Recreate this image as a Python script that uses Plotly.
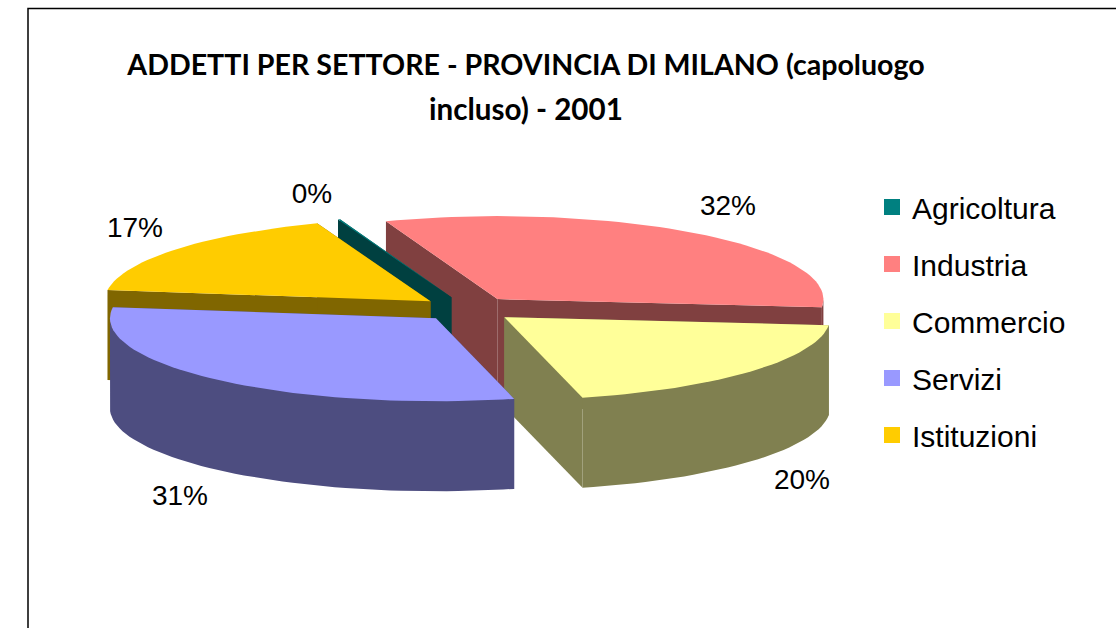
import math
import plotly.graph_objects as go

# ---- data ----
categories = ["Agricoltura", "Industria", "Commercio", "Servizi", "Istituzioni"]
shares = [0.1, 32.1, 19.6, 31.0, 17.2]
title_line_1 = "ADDETTI PER SETTORE - PROVINCIA DI MILANO (capoluogo"
title_line_2 = "incluso) - 2001"

# ---- style ----
top_colors = ["#008080", "#FF8080", "#FFFF99", "#9999FF", "#FFCC00"]
side_colors = ["#004040", "#804040", "#808050", "#4D4D80", "#806600"]
draw_order = [1, 0, 2, 4, 3]
label_anchor = [(312, 196), (728, 208), (802, 482), (180, 498), (135, 230)]
START = -20.36
CX, CY = 468, 309
EXPLODE_X, EXPLODE_Y = 48, 12.5
RX, RY, DEPTH = 326, 83, 90

total = sum(shares)
spans = []
a = START
for s in shares:
    b = a + s / total * 360
    spans.append((a, b))
    a = b


def pt(ax, ay, deg, dy=0):
    r = math.radians(deg)
    return ax + RX * math.sin(r), ay - RY * math.cos(r) + dy


def arc(ax, ay, a0, a1, dy=0):
    n = max(2, int(abs(a1 - a0) / 2) + 2)
    return [pt(ax, ay, a0 + (a1 - a0) * i / (n - 1), dy) for i in range(n)]


fig = go.Figure()


def poly(points, color):
    xs = [p[0] for p in points] + [points[0][0]]
    ys = [p[1] for p in points] + [points[0][1]]
    fig.add_trace(go.Scatter(x=xs, y=ys, mode="lines", fill="toself", fillcolor=color,
                             line=dict(width=0, color=color), hoverinfo="skip", showlegend=False))


for i in draw_order:
    a0, a1 = spans[i]
    m = math.radians((a0 + a1) / 2)
    ax = CX + EXPLODE_X * math.sin(m)
    ay = CY - EXPLODE_Y * math.cos(m)
    side = side_colors[i]
    # cut faces
    for edge in (a0, a1):
        e = pt(ax, ay, edge)
        poly([(ax, ay), e, (e[0], e[1] + DEPTH), (ax, ay + DEPTH)], side)
    # outer rim, only the part facing the viewer
    lo, hi = max(a0, 90), min(a1, 270)
    if lo < hi:
        poly(arc(ax, ay, lo, hi) + arc(ax, ay, hi, lo, DEPTH), side)
    # top face
    poly([(ax, ay)] + arc(ax, ay, a0, a1), top_colors[i])

# percentage labels
fig.add_trace(go.Scatter(
    x=[p[0] for p in label_anchor], y=[p[1] for p in label_anchor],
    text=[f"{round(s)}%" for s in shares], mode="text",
    textposition="middle center",
    textfont=dict(family="Liberation Sans", size=28, color="#000000"),
    hoverinfo="skip", showlegend=False))

# legend entries
for name, color in zip(categories, top_colors):
    fig.add_trace(go.Scatter(x=[None], y=[None], mode="markers", name=name, legendgroup=name,
                             marker=dict(symbol="square", size=19, color=color)))

fig.update_layout(
    width=1116, height=628, autosize=False,
    margin=dict(l=0, r=0, t=0, b=0),
    paper_bgcolor="#FFFFFF", plot_bgcolor="#FFFFFF",
    xaxis=dict(range=[0, 1116], visible=False, fixedrange=True),
    yaxis=dict(range=[628, 0], visible=False, fixedrange=True),
    title=dict(text=title_line_1, x=526 / 1116, xanchor="center",
               y=1 - 65 / 628, yanchor="middle",
               font=dict(family="Lato", size=28.6, color="#000000", weight="bold")),
    legend=dict(x=872 / 1116, xanchor="left", y=1 - 181 / 628, yanchor="top",
                tracegroupgap=15, itemsizing="trace", bgcolor="rgba(0,0,0,0)",
                font=dict(family="Liberation Sans", size=30, color="#000000")),
    annotations=[dict(text=title_line_2, x=526, y=108, xref="x", yref="y",
                      showarrow=False, xanchor="center", yanchor="middle",
                      font=dict(family="Lato", size=29.6, color="#000000", weight="bold"))],
    shapes=[dict(type="rect", xref="x", yref="y", x0=28, x1=1130, y0=8.5, y1=640,
                 line=dict(color="#000000", width=1.5), layer="below")],
)
fig.write_html("out.html", config={"displayModeBar": False},
               post_script="document.body.style.margin='0';document.documentElement.style.overflow='hidden';")
